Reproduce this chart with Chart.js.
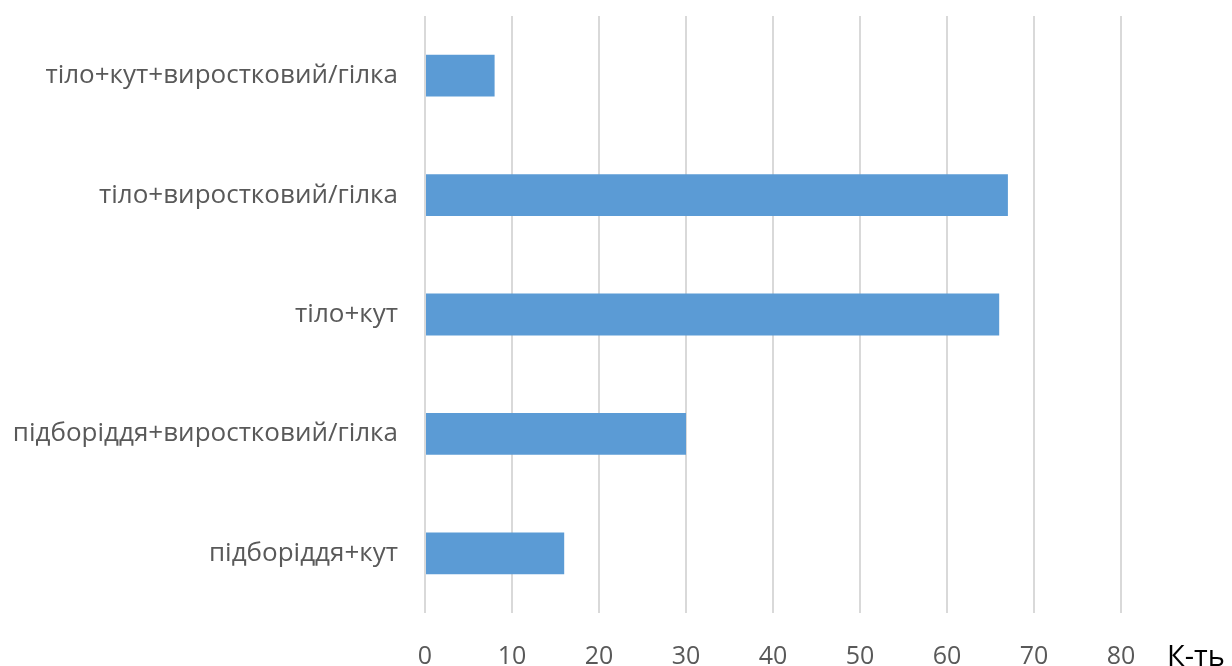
<!DOCTYPE html>
<html>
<head>
<meta charset="utf-8">
<script src="https://cdn.jsdelivr.net/npm/chart.js@4/dist/chart.umd.min.js"></script>
<style>
  html, body { margin: 0; padding: 0; background: #fff; }
  #wrap { width: 1232px; height: 666px; }
</style>
</head>
<body>
<div id="wrap"><canvas id="chart" width="1232" height="666"></canvas></div>
<script>
// categories, top to bottom
const categories = [
    'тіло+кут+виростковий/гілка',
    'тіло+виростковий/гілка',
    'тіло+кут',
    'підборіддя+виростковий/гілка',
    'підборіддя+кут'
];
const counts = [8, 67, 66, 30, 16];
const axisTitle = 'К-ть';

// draws the axis title to the right of the last tick label
const axisTitlePlugin = {
    id: 'axisTitle',
    afterDraw(chart) {
        const x = chart.scales.x;
        const ctx = chart.ctx;
        ctx.save();
        ctx.font = '29px "Open Sans"';
        ctx.fillStyle = '#000';
        ctx.textAlign = 'left';
        ctx.textBaseline = 'middle';
        ctx.fillText(axisTitle, x.right + 46, x.bottom - 8);
        ctx.restore();
    }
};

const ctx = document.getElementById('chart').getContext('2d');
const chart = new Chart(ctx, {
    type: 'bar',
    data: {
        labels: categories,
        datasets: [{
            data: counts,
            backgroundColor: '#5b9bd5',
            borderWidth: 0,
            barPercentage: 0.35,
            categoryPercentage: 1
        }]
    },
    options: {
        indexAxis: 'y',
        responsive: false,
        animation: false,
        layout: { padding: { top: 16, right: 111, left: 0, bottom: 0 } },
        plugins: {
            legend: { display: false },
            tooltip: { enabled: false }
        },
        scales: {
            x: {
                min: 0,
                max: 80,
                ticks: {
                    stepSize: 10,
                    color: '#595959',
                    font: { family: 'Open Sans', size: 25 },
                    padding: 29
                },
                grid: { color: '#d9d9d9', lineWidth: 2, drawTicks: false },
                border: { display: false },
                afterFit(scale) {
                    scale.height = 53;
                    scale.paddingLeft = 0;
                    scale.paddingRight = 0;
                }
            },
            y: {
                ticks: {
                    color: '#595959',
                    font: { family: 'Open Sans', size: 26 },
                    padding: 19
                },
                grid: { display: false },
                border: { display: false },
                afterFit(scale) {
                    scale.width = 425;
                    scale.paddingTop = 0;
                    scale.paddingBottom = 0;
                }
            }
        }
    },
    plugins: [axisTitlePlugin]
});
</script>
</body>
</html>
